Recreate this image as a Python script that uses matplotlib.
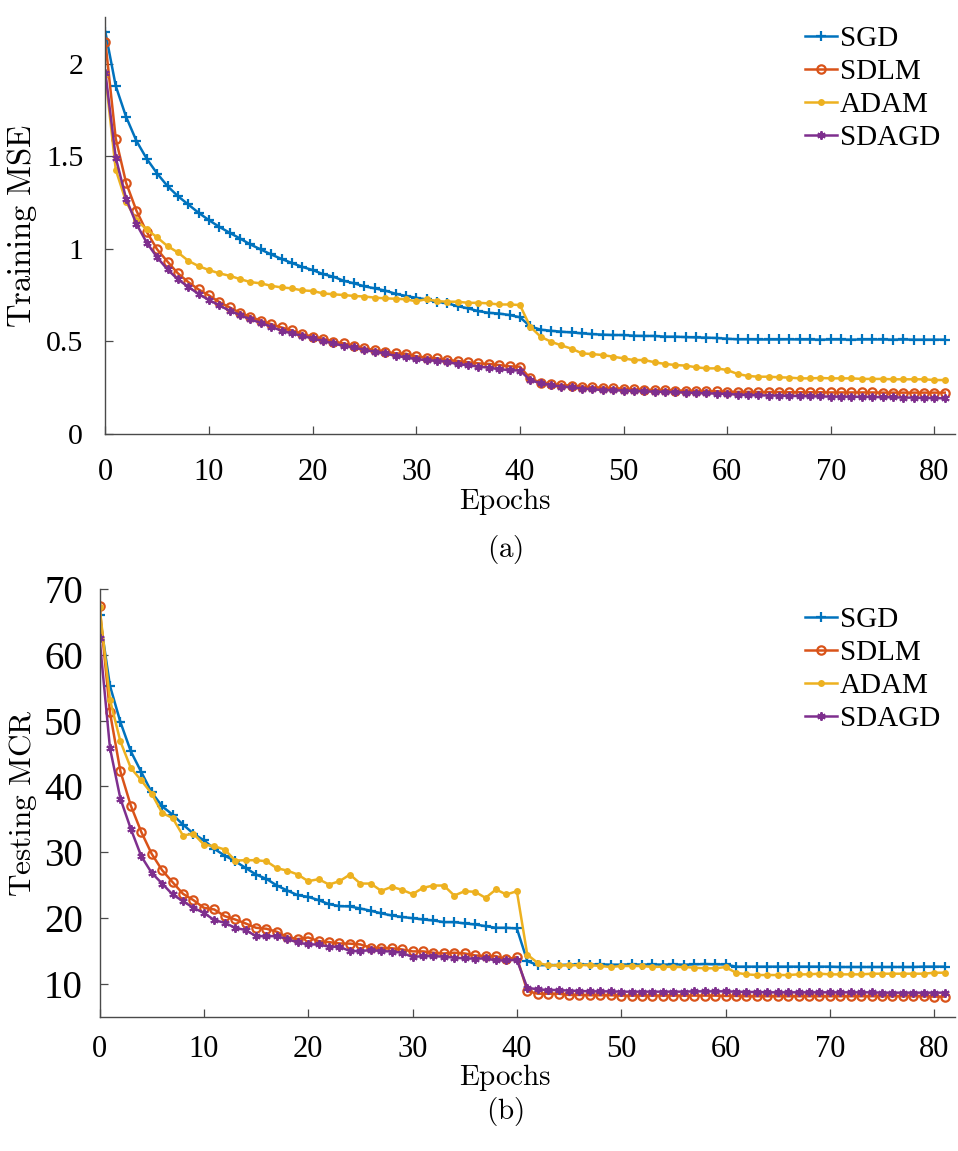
import matplotlib

matplotlib.use("Agg")
import matplotlib.pyplot as plt
import numpy as np
from matplotlib.ticker import FormatStrFormatter

# Epoch index 0..81
epochs = np.arange(82)

# ---------------------------------------------------------------------------
# (a) Training MSE
# ---------------------------------------------------------------------------
mse_sgd = [
    2.170, 1.879, 1.712, 1.582, 1.485, 1.406, 1.338, 1.284, 1.239, 1.194,
    1.154, 1.118, 1.086, 1.055, 1.023, 0.996, 0.969, 0.945, 0.923, 0.902,
    0.885, 0.863, 0.849, 0.827, 0.813, 0.797, 0.786, 0.774, 0.757, 0.745,
    0.735, 0.726, 0.714, 0.705, 0.690, 0.678, 0.663, 0.654, 0.650, 0.642,
    0.630, 0.581, 0.563, 0.557, 0.552, 0.548, 0.543, 0.539, 0.536, 0.534,
    0.534, 0.530, 0.529, 0.529, 0.525, 0.525, 0.523, 0.521, 0.520, 0.518,
    0.514, 0.511, 0.511, 0.510, 0.510, 0.510, 0.511, 0.510, 0.510, 0.509,
    0.510, 0.510, 0.509, 0.510, 0.510, 0.510, 0.509, 0.510, 0.509, 0.509,
    0.509, 0.509,
]
mse_sdlm = [
    2.116, 1.595, 1.356, 1.205, 1.090, 0.996, 0.930, 0.867, 0.820, 0.780,
    0.748, 0.712, 0.683, 0.654, 0.633, 0.611, 0.593, 0.575, 0.559, 0.539,
    0.525, 0.514, 0.498, 0.489, 0.475, 0.462, 0.453, 0.444, 0.435, 0.433,
    0.419, 0.412, 0.408, 0.399, 0.394, 0.387, 0.381, 0.378, 0.372, 0.365,
    0.363, 0.300, 0.277, 0.270, 0.264, 0.261, 0.255, 0.252, 0.250, 0.246,
    0.245, 0.241, 0.239, 0.237, 0.237, 0.234, 0.234, 0.232, 0.232, 0.230,
    0.228, 0.227, 0.227, 0.226, 0.226, 0.226, 0.225, 0.225, 0.225, 0.225,
    0.224, 0.224, 0.224, 0.224, 0.224, 0.223, 0.223, 0.223, 0.223, 0.223,
    0.223, 0.223,
]
mse_adam = [
    1.936, 1.427, 1.253, 1.154, 1.104, 1.061, 1.014, 0.980, 0.935, 0.906,
    0.885, 0.867, 0.854, 0.836, 0.820, 0.813, 0.800, 0.791, 0.786, 0.775,
    0.772, 0.759, 0.754, 0.750, 0.745, 0.742, 0.736, 0.732, 0.730, 0.727,
    0.716, 0.728, 0.717, 0.714, 0.714, 0.708, 0.708, 0.705, 0.699, 0.699,
    0.696, 0.579, 0.525, 0.498, 0.478, 0.460, 0.435, 0.431, 0.426, 0.417,
    0.408, 0.399, 0.399, 0.387, 0.378, 0.372, 0.369, 0.360, 0.354, 0.354,
    0.345, 0.324, 0.313, 0.309, 0.309, 0.306, 0.304, 0.300, 0.300, 0.302,
    0.300, 0.300, 0.300, 0.297, 0.297, 0.297, 0.295, 0.295, 0.295, 0.295,
    0.291, 0.291,
]
mse_sdagd = [
    1.951, 1.492, 1.271, 1.133, 1.032, 0.953, 0.888, 0.834, 0.795, 0.755,
    0.723, 0.694, 0.665, 0.642, 0.618, 0.600, 0.579, 0.557, 0.543, 0.529,
    0.516, 0.502, 0.489, 0.475, 0.467, 0.453, 0.444, 0.435, 0.421, 0.414,
    0.403, 0.399, 0.394, 0.390, 0.376, 0.372, 0.363, 0.358, 0.349, 0.345,
    0.342, 0.291, 0.273, 0.264, 0.255, 0.252, 0.245, 0.241, 0.237, 0.236,
    0.234, 0.232, 0.230, 0.228, 0.227, 0.225, 0.223, 0.221, 0.219, 0.218,
    0.216, 0.212, 0.210, 0.209, 0.207, 0.207, 0.205, 0.205, 0.203, 0.203,
    0.201, 0.201, 0.201, 0.200, 0.200, 0.198, 0.198, 0.196, 0.196, 0.194,
    0.194, 0.192,
]

# ---------------------------------------------------------------------------
# (b) Testing MCR (%)
# ---------------------------------------------------------------------------
mcr_sgd = [
    66.05, 55.28, 49.77, 45.32, 42.18, 39.09, 36.97, 35.71, 34.19, 32.82,
    31.81, 30.50, 29.48, 28.62, 27.61, 26.60, 25.94, 24.93, 24.17, 23.46,
    23.21, 22.71, 22.10, 21.80, 21.75, 21.44, 21.10, 20.70, 20.38, 20.15,
    19.97, 19.77, 19.62, 19.37, 19.37, 19.17, 19.01, 18.76, 18.51, 18.51,
    18.41, 13.45, 12.84, 12.84, 12.84, 12.90, 12.95, 12.90, 12.95, 12.90,
    12.90, 12.95, 12.90, 12.95, 12.90, 12.95, 12.90, 12.95, 13.00, 12.95,
    12.95, 12.60, 12.60, 12.60, 12.60, 12.60, 12.60, 12.60, 12.60, 12.60,
    12.60, 12.55, 12.55, 12.55, 12.55, 12.55, 12.55, 12.55, 12.55, 12.60,
    12.60, 12.60,
]
mcr_sdlm = [
    67.42, 51.23, 42.28, 37.07, 33.08, 29.74, 27.26, 25.44, 23.67, 22.71,
    21.54, 21.29, 20.28, 19.77, 19.17, 18.51, 18.36, 17.90, 17.10, 16.79,
    17.04, 16.48, 16.33, 16.13, 16.10, 15.98, 15.47, 15.47, 15.40, 15.22,
    14.92, 14.92, 14.72, 14.61, 14.72, 14.61, 14.31, 14.21, 14.21, 13.70,
    14.06, 8.90, 8.49, 8.49, 8.49, 8.30, 8.30, 8.25, 8.25, 8.25,
    8.20, 8.20, 8.20, 8.20, 8.20, 8.20, 8.20, 8.20, 8.20, 8.20,
    8.15, 8.15, 8.10, 8.10, 8.10, 8.10, 8.10, 8.10, 8.10, 8.10,
    8.10, 8.10, 8.10, 8.10, 8.10, 8.10, 8.10, 8.10, 8.10, 8.10,
    8.05, 8.05,
]
mcr_adam = [
    67.32, 53.16, 46.83, 42.79, 40.92, 38.89, 35.96, 35.20, 32.52, 32.82,
    31.15, 30.90, 30.40, 28.73, 28.78, 28.78, 28.62, 27.56, 27.20, 26.60,
    25.59, 25.90, 25.08, 25.59, 26.60, 25.23, 25.23, 24.12, 24.73, 24.28,
    23.62, 24.58, 24.93, 24.93, 23.41, 24.07, 23.97, 23.06, 24.33, 23.57,
    24.07, 14.43, 13.17, 12.80, 12.80, 12.80, 12.84, 12.84, 12.70, 12.55,
    12.70, 12.70, 12.70, 12.55, 12.60, 12.55, 12.55, 12.45, 12.35, 12.35,
    12.54, 11.68, 11.43, 11.33, 11.33, 11.33, 11.33, 11.43, 11.43, 11.53,
    11.43, 11.43, 11.43, 11.43, 11.53, 11.53, 11.53, 11.53, 11.53, 11.53,
    11.68, 11.68,
]
mcr_sdagd = [
    62.51, 45.82, 38.13, 33.53, 29.38, 26.85, 25.23, 23.57, 22.55, 21.54,
    20.78, 19.67, 19.27, 18.51, 18.16, 17.24, 17.24, 17.24, 16.79, 16.28,
    15.98, 15.98, 15.63, 15.63, 14.97, 14.97, 15.12, 14.97, 14.90, 14.72,
    14.06, 14.21, 14.21, 14.11, 13.96, 13.86, 13.81, 13.86, 13.55, 13.55,
    13.65, 9.40, 9.15, 9.05, 9.05, 8.95, 8.90, 8.85, 8.85, 8.85,
    8.80, 8.80, 8.80, 8.80, 8.80, 8.80, 8.80, 8.85, 8.85, 8.85,
    8.85, 8.80, 8.75, 8.75, 8.70, 8.70, 8.70, 8.70, 8.70, 8.70,
    8.70, 8.70, 8.70, 8.70, 8.70, 8.65, 8.65, 8.65, 8.65, 8.65,
    8.65, 8.65,
]

labels = ["SGD", "SDLM", "ADAM", "SDAGD"]
colors = ["#0072BD", "#D95319", "#EDB120", "#7E2F8E"]

plt.rcParams["font.family"] = ["Liberation Serif", "DejaVu Serif"]
plt.rcParams["mathtext.fontset"] = "cm"

AXIS_COLOR = "#4a4a4a"


def _draw_series(ax, series):
    styles = [
        dict(marker="+", markersize=7, markeredgewidth=1.6),
        dict(marker="o", markersize=6, markerfacecolor="none", markeredgewidth=1.6),
        dict(marker="o", markersize=5, markeredgewidth=0),
        dict(marker=(6, 2, 0), markersize=6, markeredgewidth=1.4),
    ]
    for values, label, color, style in zip(series, labels, colors, styles):
        ax.plot(epochs, values, color=color, lw=1.8, label=label, **style)


def _style_axes(ax, xtick_pad, ytick_size, ytick_pad):
    ax.spines["top"].set_visible(False)
    ax.spines["right"].set_visible(False)
    for side in ("left", "bottom"):
        ax.spines[side].set_color(AXIS_COLOR)
        ax.spines[side].set_linewidth(1.0)
    ax.tick_params(direction="in", length=6, width=0.9, color=AXIS_COLOR)
    ax.tick_params(axis="x", labelsize=22, pad=xtick_pad)
    ax.tick_params(axis="y", labelsize=ytick_size, pad=ytick_pad)
    ax.set_xlim(0, 82)
    ax.set_xticks(range(0, 81, 10))


def _legend(ax, top_px):
    ax.legend(loc="upper left", bbox_to_anchor=(805 / 958, 1 - top_px / 1151),
              bbox_transform=fig.transFigure, frameon=False, fontsize=21,
              handlelength=1.1, handletextpad=0.1, labelspacing=0.22,
              borderaxespad=0, borderpad=0)


fig = plt.figure(figsize=(9.58, 11.51), dpi=100)

# --- (a) training MSE ---
ax1 = fig.add_axes([0.110, 0.623, 0.887, 0.362])
_draw_series(ax1, [mse_sgd, mse_sdlm, mse_adam, mse_sdagd])
_style_axes(ax1, 17, 21.5, 16)
ax1.set_ylim(0, 2.25)
ax1.set_yticks([0, 0.5, 1, 1.5, 2])
ax1.yaxis.set_major_formatter(FormatStrFormatter("%g"))
ax1.set_xlabel(r"$\mathrm{Epochs}$", fontsize=21)
ax1.xaxis.set_label_coords(0.47, -0.126)
ax1.set_ylabel(r"$\mathrm{Training\ MSE}$", fontsize=23.5)
ax1.yaxis.set_label_coords(-0.078, 0.5)
_legend(ax1, 26)

# --- (b) testing MCR ---
ax2 = fig.add_axes([0.1039, 0.1167, 0.893, 0.3716])
_draw_series(ax2, [mcr_sgd, mcr_sdlm, mcr_adam, mcr_sdagd])
_style_axes(ax2, 13, 28, 12)
ax2.set_ylim(5, 70)
ax2.set_yticks(range(10, 71, 10))
ax2.set_xlabel(r"$\mathrm{Epochs}$", fontsize=21)
ax2.xaxis.set_label_coords(0.474, -0.106)
ax2.set_ylabel(r"$\mathrm{Testing\ MCR}$", fontsize=22.5)
ax2.yaxis.set_label_coords(-0.071, 0.5)
_legend(ax2, 607)

fig.text(505 / 958, 1 - 550 / 1151, r"$\mathrm{(a)}$", fontsize=21,
         ha="center", va="center")
fig.text(505 / 958, 1 - 1112 / 1151, r"$\mathrm{(b)}$", fontsize=21,
         ha="center", va="center")

fig.savefig("out.png", dpi=100)
